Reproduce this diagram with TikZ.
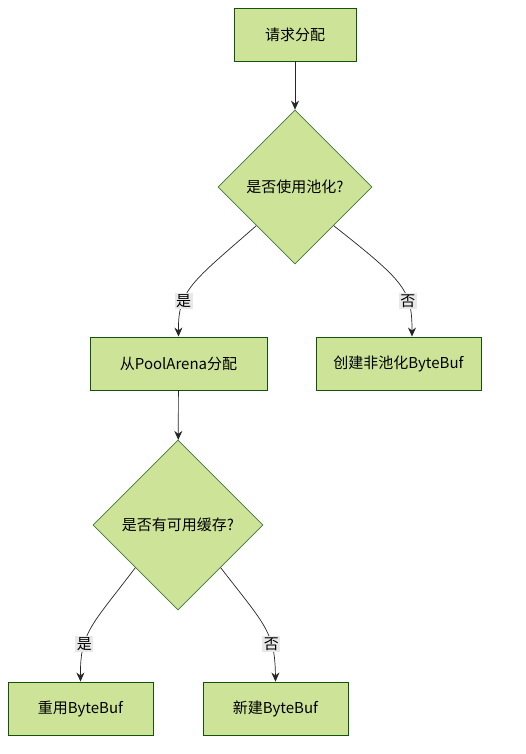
\documentclass[tikz,border=0pt]{standalone}
\usepackage{fontspec}
\setmainfont{Noto Sans CJK SC}
\usetikzlibrary{shapes.geometric,arrows.meta}
\definecolor{stepfill}{HTML}{CDE498}
\definecolor{stepline}{HTML}{13540C}
\definecolor{lblback}{HTML}{E8E8E8}

\begin{document}
\begin{tikzpicture}[x=1pt,y=-1pt,
   stepbox/.style={draw=stepline,fill=stepfill,line width=0.9pt,minimum height=53pt,inner sep=0pt,font=\fontsize{15}{18}\selectfont},
   choice/.style={diamond,draw=stepline!80,fill=stepfill,line width=0.7pt,inner sep=0pt,font=\fontsize{15}{18}\selectfont},
   flow/.style={draw=black!85,line width=0.7pt,-{Stealth[length=9pt,width=8pt]}},
   lbl/.style={fill=lblback,inner sep=1.5pt,font=\fontsize{15}{17}\selectfont}]
\useasboundingbox[fill=white] (0,0) rectangle (525,754);
% boxes and decisions
\node[stepbox,minimum width=122pt] (ask) at (295,34.5) {请求分配};
\node[choice,minimum width=154pt,minimum height=154pt] (pool) at (295,187) {是否使用池化?};
\node[stepbox,minimum width=177pt] (arena) at (178.5,363.5) {从PoolArena分配};
\node[stepbox,minimum width=165pt] (plain) at (398.5,363.5) {创建非池化ByteBuf};
\node[choice,minimum width=170pt,minimum height=170pt] (cache) at (178,525) {是否有可用缓存?};
\node[stepbox,minimum width=145pt] (reuse) at (80.5,708.5) {重用ByteBuf};
\node[stepbox,minimum width=145pt] (fresh) at (275.5,708.5) {新建ByteBuf};
% connectors
\draw[flow] (ask) -- (pool);
\draw[flow] (pool.south west) .. controls (192,282) and (178,290) .. node[lbl,pos=0.68] {是} (arena.north);
\draw[flow] (pool.south east) .. controls (405,282) and (412,290) .. node[lbl,pos=0.68] {否} ([xshift=13.5pt]plain.north);
\draw[flow] (arena) -- (cache);
\draw[flow] (cache.south west) .. controls (92,625) and (80,632) .. node[lbl,pos=0.68] {是} (reuse.north);
\draw[flow] (cache.south east) .. controls (265,625) and (275,632) .. node[lbl,pos=0.68] {否} (fresh.north);
\end{tikzpicture}
\end{document}
